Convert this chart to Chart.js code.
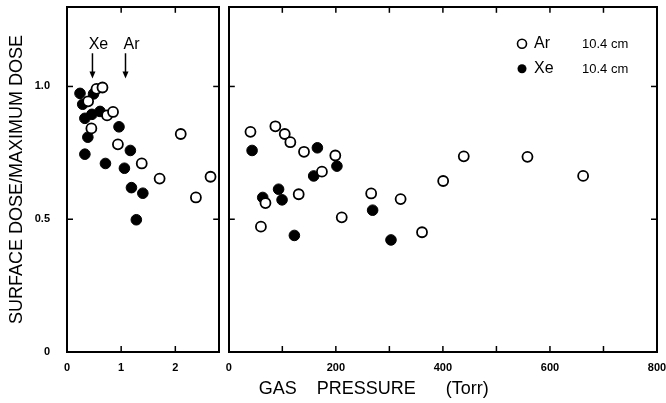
<!DOCTYPE html>
<html>
<head>
<meta charset="utf-8">
<script src="https://cdn.jsdelivr.net/npm/chart.js@4.4.1/dist/chart.umd.min.js"></script>
<style>
  html, body { margin: 0; padding: 0; background: #fff; }
  #wrap { position: relative; width: 666px; height: 403px; overflow: hidden; }
  #low { position: absolute; left: 0; top: 0; }
  #high { position: absolute; left: 222px; top: 0; }
</style>
</head>
<body>
<div id="wrap">
  <canvas id="low" width="226" height="403"></canvas>
  <canvas id="high" width="444" height="403"></canvas>
</div>
<script>
// tick values
const yTicks = [0, 0.5, 1.0];
const lowTicks = [0, 1, 2];
const highTicks = [0, 100, 200, 300, 400, 500, 600, 700, 800];
const highLabels = [0, 200, 400, 600, 800];

// left panel, low pressure
const arLowP = [0.39, 0.45, 0.545, 0.655, 0.74, 0.85, 0.94, 1.38, 1.71, 2.10, 2.38, 2.65];
const arLowD = [0.944, 0.842, 0.991, 0.996, 0.891, 0.904, 0.782, 0.71, 0.653, 0.821, 0.582, 0.66];
const xeLowP = [0.24, 0.29, 0.49, 0.33, 0.46, 0.61, 0.385, 0.33, 0.71, 0.96, 1.17, 1.06, 1.19, 1.40, 1.28];
const xeLowD = [0.974, 0.933, 0.972, 0.88, 0.895, 0.906, 0.809, 0.745, 0.71, 0.848, 0.759, 0.692, 0.619, 0.598, 0.498];

// right panel, high pressure
const arHighP = [40.5, 87, 104.5, 115, 140.5, 199, 174, 130.6, 68.5, 60, 211, 266, 321, 361, 400.5, 439, 558, 662];
const arHighD = [0.829, 0.85, 0.821, 0.79, 0.754, 0.74, 0.679, 0.594, 0.561, 0.472, 0.507, 0.597, 0.576, 0.451, 0.644, 0.737, 0.735, 0.663];
const xeHighP = [43.5, 165.5, 202, 158.6, 93, 63.4, 99.5, 122.5, 268.7, 303];
const xeHighD = [0.759, 0.769, 0.70, 0.663, 0.613, 0.582, 0.573, 0.439, 0.534, 0.422];

const legendNames = ['Ar', 'Xe'];
const legendNotes = ['10.4 cm', '10.4 cm'];
const arrowNames = ['Xe', 'Ar'];
const arrowAt = [0.47, 1.08];

const FONT = "'Liberation Sans', Arial, sans-serif";
Chart.defaults.font.family = FONT;
Chart.defaults.color = '#000';

function pts(xs, ys) {
  return xs.map((x, i) => ({ x: x, y: ys[i] }));
}

function fixSize(w, h) {
  return (s) => {
    if (w != null) s.width = w;
    if (h != null) s.height = h;
    s.paddingLeft = 0; s.paddingRight = 0; s.paddingTop = 0; s.paddingBottom = 0;
  };
}

function useTicks(list) {
  return (s) => { s.ticks = list.map(v => ({ value: v })); };
}

// short ticks pointing into the frame
const inTicks = {
  id: 'inTicks',
  afterDraw(chart) {
    const ctx = chart.ctx;
    const a = chart.chartArea;
    const len = 6;
    ctx.save();
    ctx.strokeStyle = '#000';
    ctx.lineWidth = 1.5;
    Object.values(chart.scales).forEach(s => {
      s.ticks.forEach(t => {
        const p = s.getPixelForValue(t.value);
        ctx.beginPath();
        if (s.position === 'bottom') { ctx.moveTo(p, a.bottom); ctx.lineTo(p, a.bottom - len); }
        else if (s.position === 'top') { ctx.moveTo(p, a.top); ctx.lineTo(p, a.top + len); }
        else if (s.position === 'left') { ctx.moveTo(a.left, p); ctx.lineTo(a.left + len, p); }
        else { ctx.moveTo(a.right, p); ctx.lineTo(a.right - len, p); }
        ctx.stroke();
      });
    });
    ctx.restore();
  }
};

// arrows marking Xe and Ar on the left panel
const arrows = {
  id: 'arrows',
  afterDraw(chart) {
    const ctx = chart.ctx;
    const x = chart.scales.x, y = chart.scales.y;
    ctx.save();
    ctx.fillStyle = '#000';
    ctx.strokeStyle = '#000';
    ctx.lineWidth = 1.5;
    ctx.font = '16px ' + FONT;
    ctx.textAlign = 'center';
    ctx.textBaseline = 'middle';
    arrowAt.forEach((v, i) => {
      const px = x.getPixelForValue(v);
      const y0 = y.getPixelForValue(1.125);
      const y1 = y.getPixelForValue(1.03);
      ctx.beginPath();
      ctx.moveTo(px, y0);
      ctx.lineTo(px, y1 - 5);
      ctx.stroke();
      ctx.beginPath();
      ctx.moveTo(px - 3, y1 - 7);
      ctx.lineTo(px + 3, y1 - 7);
      ctx.lineTo(px, y1);
      ctx.closePath();
      ctx.fill();
      ctx.fillText(arrowNames[i], px + 6, y.getPixelForValue(1.157));
    });
    ctx.restore();
  }
};

// legend inside the right panel
const keyBox = {
  id: 'keyBox',
  afterDraw(chart) {
    const ctx = chart.ctx;
    const a = chart.chartArea;
    ctx.save();
    ctx.textBaseline = 'middle';
    legendNames.forEach((name, i) => {
      const cy = a.top + 37 + i * 25;
      const cx = a.right - 135;
      ctx.beginPath();
      ctx.arc(cx, cy, 4.5, 0, Math.PI * 2);
      ctx.lineWidth = 1.6;
      ctx.strokeStyle = '#000';
      if (i === 0) { ctx.fillStyle = '#fff'; ctx.fill(); ctx.stroke(); }
      else { ctx.fillStyle = '#000'; ctx.fill(); }
      ctx.fillStyle = '#000';
      ctx.textAlign = 'left';
      ctx.font = '16px ' + FONT;
      ctx.fillText(name, cx + 12, cy);
      ctx.font = '13px ' + FONT;
      ctx.fillText(legendNotes[i], a.right - 75, cy + 1);
    });
    ctx.restore();
  }
};

const tickFont = { family: FONT, size: 11, weight: 'bold' };
const frame = { display: true, color: '#000', width: 2 };
const noGrid = { display: false, drawTicks: false };

function sets(arP, arD, xeP, xeD) {
  return [
    {
      label: 'Ar', data: pts(arP, arD),
      pointRadius: 5, pointBackgroundColor: '#fff', pointBorderColor: '#000', pointBorderWidth: 1.8
    },
    {
      label: 'Xe', data: pts(xeP, xeD),
      pointRadius: 5.3, pointBackgroundColor: '#000', pointBorderColor: '#000', pointBorderWidth: 1
    }
  ];
}

const common = {
  responsive: false,
  animation: false,
  layout: { padding: 0 },
  plugins: { legend: { display: false }, tooltip: { enabled: false } }
};

new Chart(document.getElementById('low'), {
  type: 'scatter',
  data: { datasets: sets(arLowP, arLowD, xeLowP, xeLowD) },
  options: Object.assign({}, common, {
    scales: {
      x: {
        type: 'linear', position: 'bottom', min: 0, max: 2.81,
        afterBuildTicks: useTicks(lowTicks),
        ticks: { font: tickFont, padding: 9, maxRotation: 0, callback: v => String(v) },
        grid: noGrid, border: frame, afterFit: fixSize(null, 51)
      },
      x2: {
        type: 'linear', position: 'top', min: 0, max: 2.81,
        afterBuildTicks: useTicks(lowTicks),
        ticks: { display: false },
        grid: noGrid, border: frame, afterFit: fixSize(null, 5)
      },
      y: {
        type: 'linear', position: 'left', min: 0, max: 1.3,
        afterBuildTicks: useTicks(yTicks),
        ticks: { font: tickFont, padding: 17, callback: v => v === 0 ? '0' : v.toFixed(1) },
        title: {
          display: true, text: 'SURFACE DOSE/MAXIMUM DOSE',
          font: { family: FONT, size: 18 }, padding: { top: 6, bottom: 0 }
        },
        grid: noGrid, border: frame, afterFit: fixSize(67, null)
      },
      y2: {
        type: 'linear', position: 'right', min: 0, max: 1.3,
        afterBuildTicks: useTicks(yTicks),
        ticks: { display: false },
        grid: noGrid, border: frame, afterFit: fixSize(6, null)
      }
    }
  }),
  plugins: [inTicks, arrows]
});

new Chart(document.getElementById('high'), {
  type: 'scatter',
  data: { datasets: sets(arHighP, arHighD, xeHighP, xeHighD) },
  options: Object.assign({}, common, {
    scales: {
      x: {
        type: 'linear', position: 'bottom', min: 0, max: 800,
        afterBuildTicks: useTicks(highTicks),
        ticks: {
          font: tickFont, padding: 9, maxRotation: 0, autoSkip: false,
          callback: v => highLabels.includes(v) ? String(v) : ''
        },
        title: {
          display: true, align: 'start', text: '      GAS    PRESSURE      (Torr)',
          font: { family: FONT, size: 18 }, padding: { top: 0, bottom: 3 }
        },
        grid: noGrid, border: frame, afterFit: fixSize(null, 51)
      },
      x2: {
        type: 'linear', position: 'top', min: 0, max: 800,
        afterBuildTicks: useTicks(highTicks),
        ticks: { display: false },
        grid: noGrid, border: frame, afterFit: fixSize(null, 5)
      },
      y: {
        type: 'linear', position: 'left', min: 0, max: 1.3,
        afterBuildTicks: useTicks(yTicks),
        ticks: { display: false },
        grid: noGrid, border: frame, afterFit: fixSize(6, null)
      },
      y2: {
        type: 'linear', position: 'right', min: 0, max: 1.3,
        afterBuildTicks: useTicks(yTicks),
        ticks: { display: false },
        grid: noGrid, border: frame, afterFit: fixSize(9, null)
      }
    }
  }),
  plugins: [inTicks, keyBox]
});
</script>
</body>
</html>
